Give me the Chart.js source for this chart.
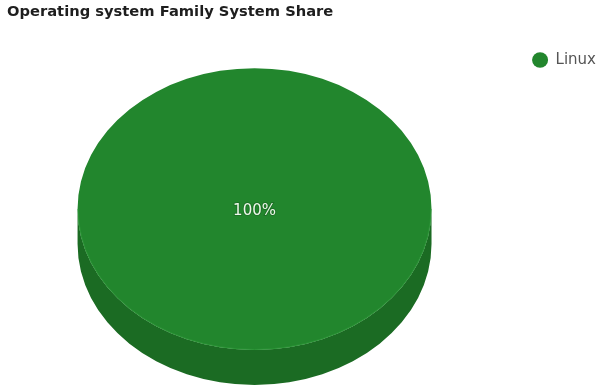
<!doctype html>
<html lang="en">
<head>
    <meta charset="UTF-8"/>
    <script src="https://cdn.jsdelivr.net/npm/chart.js@4.4.1/dist/chart.umd.min.js"></script>
    <title>Operating system Family System Share</title>
    <style>
        body { margin: 0; background: #fff; }
        #wrap { width: 606px; height: 389px; }
    </style>
</head>
<body>
<div id="wrap"><canvas id="osPie"></canvas></div>

<script>
    const families = ['Linux'];
    const shares = [100];
    const topColors = ['#22862d'];
    const sideColors = ['#1b6b23'];
    const rimColors = ['#2c9637'];

    // Squash the pie into an ellipse and give it a darker rim underneath.
    const tilt = {
        id: 'tilt',
        beforeDatasetsDraw(chart, args, opts) {
            const arcs = chart.getDatasetMeta(0).data;
            if (!arcs.length) return;
            const {x, y, outerRadius} = arcs[0].getProps(['x', 'y', 'outerRadius']);
            const ctx = chart.ctx;
            ctx.save();
            ctx.translate(x, y);
            ctx.scale(1, opts.squash);
            ctx.translate(-x, -y);
            const d = opts.depth / opts.squash;
            arcs.forEach((arc, i) => {
                const p = arc.getProps(['startAngle', 'endAngle']);
                [0, 2 * Math.PI].forEach((shift) => {
                    const a0 = Math.max(p.startAngle, shift);
                    const a1 = Math.min(p.endAngle, shift + Math.PI);
                    if (a1 <= a0) return;
                    ctx.beginPath();
                    ctx.arc(x, y + d, outerRadius, a0, a1);
                    ctx.lineTo(x + outerRadius * Math.cos(a1), y + outerRadius * Math.sin(a1));
                    ctx.arc(x, y, outerRadius, a1, a0, true);
                    ctx.closePath();
                    ctx.fillStyle = sideColors[i];
                    ctx.fill();
                });
            });
        },
        afterDatasetsDraw(chart, args, opts) {
            const ctx = chart.ctx;
            const meta = chart.getDatasetMeta(0);
            // thin light edge where the top face meets the side
            meta.data.forEach((arc, i) => {
                const p = arc.getProps(['x', 'y', 'startAngle', 'endAngle', 'outerRadius']);
                const a0 = Math.max(p.startAngle, 0);
                const a1 = Math.min(p.endAngle, Math.PI);
                if (a1 <= a0) return;
                ctx.beginPath();
                ctx.arc(p.x, p.y, p.outerRadius - 0.5, a0, a1);
                ctx.lineWidth = 1;
                ctx.strokeStyle = rimColors[i];
                ctx.stroke();
            });
            ctx.restore();

            const total = shares.reduce((a, b) => a + b, 0);
            meta.data.forEach((arc, i) => {
                const p = arc.getProps(['x', 'y', 'startAngle', 'endAngle', 'outerRadius']);
                let lx = p.x, ly = p.y;
                if (p.endAngle - p.startAngle < 2 * Math.PI - 1e-6) {
                    const pos = arc.tooltipPosition();
                    lx = pos.x;
                    ly = p.y + (pos.y - p.y) * opts.squash;
                }
                ctx.save();
                ctx.font = '15px "DejaVu Sans"';
                ctx.textAlign = 'center';
                ctx.textBaseline = 'middle';
                ctx.lineWidth = 2;
                ctx.strokeStyle = 'rgba(0,0,0,0.15)';
                const txt = Math.round(shares[i] / total * 100) + '%';
                ctx.strokeText(txt, lx, ly + 2);
                ctx.fillStyle = '#eef6ea';
                ctx.fillText(txt, lx, ly + 2);
                ctx.restore();
            });
        }
    };

    new Chart(document.getElementById('osPie'), {
        type: 'pie',
        data: {
            labels: families,
            datasets: [{
                data: shares,
                backgroundColor: topColors,
                borderWidth: 0
            }]
        },
        plugins: [tilt],
        options: {
            responsive: true,
            maintainAspectRatio: false,
            animation: false,
            events: [],
            layout: {
                padding: {left: 7, right: 0, top: 0, bottom: 3}
            },
            plugins: {
                tilt: {squash: 0.796, depth: 35},
                tooltip: {enabled: false},
                title: {
                    display: true,
                    text: 'Operating system Family System Share',
                    align: 'start',
                    color: '#1e1e1e',
                    font: {family: '"DejaVu Sans"', size: 14.7, weight: 'bold'},
                    padding: {top: 3, bottom: 11.4}
                },
                legend: {
                    position: 'right',
                    align: 'start',
                    title: {
                        display: true,
                        text: '',
                        font: {size: 15},
                        padding: {top: 0, bottom: 4.5}
                    },
                    labels: {
                        usePointStyle: true,
                        pointStyle: 'circle',
                        boxHeight: 11,
                        pointStyleWidth: 16,
                        padding: 30,
                        color: '#555',
                        font: {family: '"DejaVu Sans"', size: 15}
                    }
                }
            }
        }
    });
</script>
</body>
</html>
